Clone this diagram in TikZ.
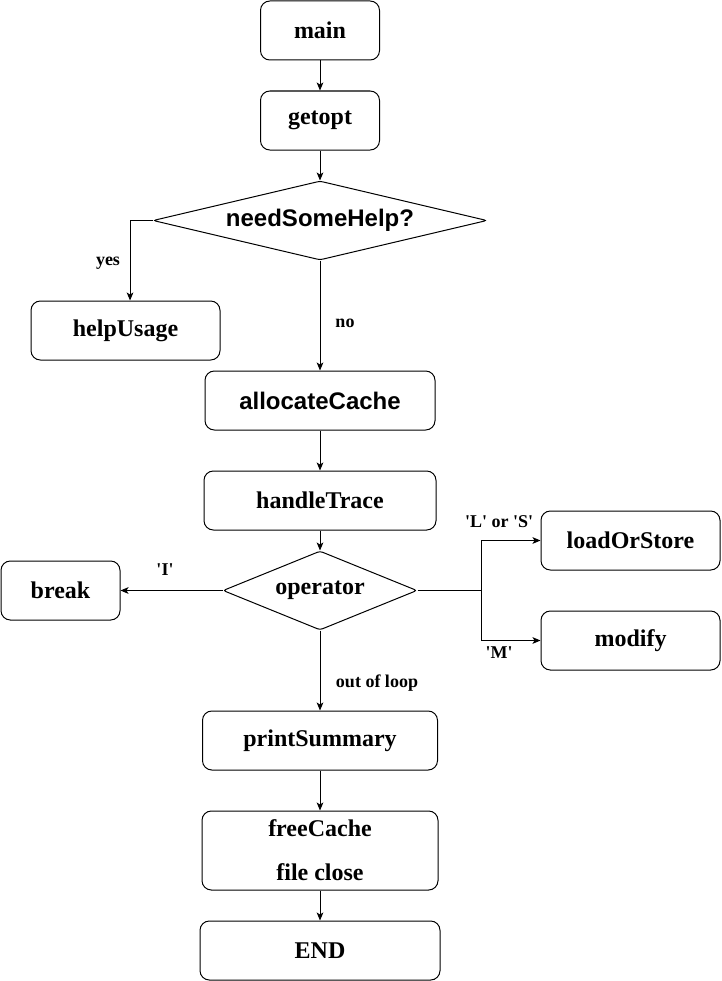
\documentclass[tikz,border=0pt]{standalone}
\usepackage{fontspec}
\setmainfont{Liberation Serif}
\newfontfamily\arialfont{Liberation Sans}
\usetikzlibrary{shapes.geometric,arrows.meta}
\begin{document}
\begin{tikzpicture}[x=0.75pt,y=-0.75pt,
  sz/.style 2 args={minimum width=#1*0.75pt,minimum height=#2*0.75pt},
  box/.style={draw,rounded corners=7pt,inner sep=0pt,line width=0.75pt,font=\fontsize{18}{21}\selectfont\bfseries},
  dia/.style={draw,diamond,rounded corners=2pt,inner sep=0pt,line width=0.75pt,font=\fontsize{18}{21}\selectfont\bfseries},
  arr/.style={-{Stealth[length=6pt,width=5pt,inset=1.5pt]},line width=0.75pt},
  lbl/.style={inner sep=0pt,font=\fontsize{13.5}{15}\selectfont\bfseries}]
\useasboundingbox (0,0) rectangle (721,981);
\node[box,sz={119}{59}] (main) at (320,30.5) {main};
\node[box,sz={119}{59}] (getopt) at (320,120.5) {getopt};
\node[dia,sz={334}{79},aspect=4.23,font=\arialfont\fontsize{18}{21}\selectfont\bfseries] (help) at (320,220.5) {needSomeHelp?};
\node[box,sz={189}{59}] (hu) at (125.5,330.5) {helpUsage};
\node[box,sz={230}{59},font=\arialfont\fontsize{18}{21}\selectfont\bfseries] (alloc) at (320,400.5) {allocateCache};
\node[box,sz={232}{59}] (handle) at (320,500.5) {handleTrace};
\node[dia,sz={194}{79},aspect=2.46] (op) at (320,590.5) {operator};
\node[box,sz={119}{59}] (brk) at (60.5,590.5) {break};
\node[box,sz={179}{59}] (lors) at (630.5,540.5) {loadOrStore};
\node[box,sz={179}{59}] (modify) at (630.5,640.5) {modify};
\node[box,sz={235}{59}] (print) at (320,740.5) {printSummary};
\node[box,sz={236}{79},align=center,font=\fontsize{18}{33}\selectfont\bfseries] (free) at (320,850.5) {freeCache\\file close};
\node[box,sz={240}{59}] (end) at (320,950.5) {END};
\draw[arr] (main) -- (getopt);
\draw[arr] (getopt) -- (help);
\draw[arr] (help.west) -| ([xshift=3.4pt]hu.north);
\draw[arr] (help) -- (alloc);
\draw[arr] (alloc) -- (handle);
\draw[arr] (handle) -- (op);
\draw[arr] (op) -- (brk);
\coordinate (split) at (481,590.5);
\draw[arr] (op.east) -- (split) |- (lors.west);
\draw[arr] (split) |- (modify.west);
\draw[arr] (op) -- (print);
\draw[arr] (print) -- (free);
\draw[arr] (free) -- (end);
\node[lbl] (lyes) at (108,263) {yes};
\node[lbl] (lno) at (345,323) {no};
\node[lbl] (li) at (165,570) {\textquotesingle I\textquotesingle};
\node[lbl] (lls) at (499,522) {\textquotesingle L\textquotesingle{} or \textquotesingle S\textquotesingle};
\node[lbl] (lm) at (499,653) {\textquotesingle M\textquotesingle};
\node[lbl] (lout) at (377,683) {out of loop};
\end{tikzpicture}
\end{document}
